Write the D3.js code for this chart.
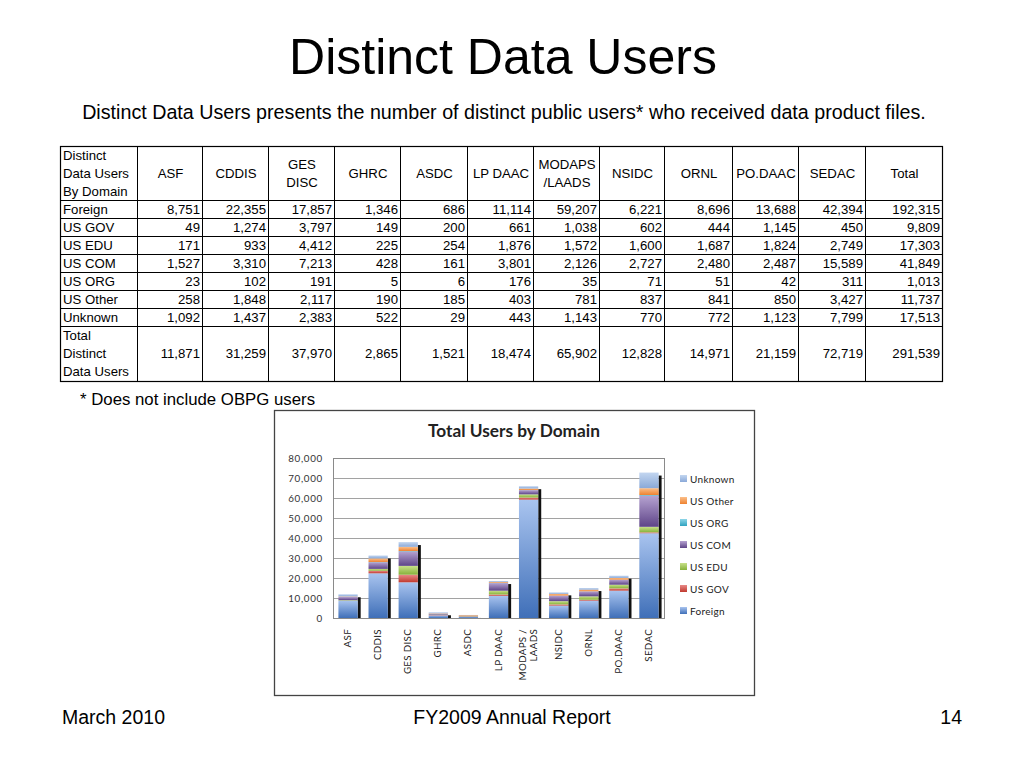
<!DOCTYPE html>
<html><head><meta charset="utf-8">
<script src="https://cdn.jsdelivr.net/npm/d3@7"></script>
<style>body{margin:0;background:#fff}svg{display:block}</style>
</head><body>
<svg id="s" width="1024" height="768"></svg>
<script>
// ---- data ----
const centers = ["ASF","CDDIS","GES DISC","GHRC","ASDC","LP DAAC","MODAPS / LAADS","NSIDC","ORNL","PO.DAAC","SEDAC"];
const tableHeaders = ["Distinct\nData Users\nBy Domain","ASF","CDDIS","GES\nDISC","GHRC","ASDC","LP DAAC","MODAPS\n/LAADS","NSIDC","ORNL","PO.DAAC","SEDAC","Total"];
const domains = ["Foreign","US GOV","US EDU","US COM","US ORG","US Other","Unknown"];
const foreign = [8751,22355,17857,1346,686,11114,59207,6221,8696,13688,42394];
const usGov   = [49,1274,3797,149,200,661,1038,602,444,1145,450];
const usEdu   = [171,933,4412,225,254,1876,1572,1600,1687,1824,2749];
const usCom   = [1527,3310,7213,428,161,3801,2126,2727,2480,2487,15589];
const usOrg   = [23,102,191,5,6,176,35,71,51,42,311];
const usOther = [258,1848,2117,190,185,403,781,837,841,850,3427];
const unknown = [1092,1437,2383,522,29,443,1143,770,772,1123,7799];
const yTicks = [0,10000,20000,30000,40000,50000,60000,70000,80000];
const totalLabel = "Total\nDistinct\nData Users";

const seriesVals = [foreign,usGov,usEdu,usCom,usOrg,usOther,unknown];
const colors = {"Foreign":["#a9c4ef","#3f6fb8"],"US GOV":["#e88a88","#c0392f"],"US EDU":["#c8e08a","#86b23a"],
  "US COM":["#b6a3d1","#5e4488"],"US ORG":["#8fd6e8","#2fa3c0"],"US Other":["#fbbf8a","#ee8230"],"Unknown":["#c3d6f0","#8aa9d8"]};

const svg = d3.select("#s");
const fmt = d3.format(",");
const SANS = "Liberation Sans, Arial, sans-serif";

// ---- slide texts ----
svg.append("text").attr("x",503).attr("y",74).attr("text-anchor","middle")
  .attr("font-family",SANS).attr("font-size",50).text("Distinct Data Users");
svg.append("text").attr("x",504).attr("y",119).attr("text-anchor","middle")
  .attr("font-family",SANS).attr("font-size",19.7)
  .text("Distinct Data Users presents the number of distinct public users* who received data product files.");
svg.append("text").attr("x",80).attr("y",405)
  .attr("font-family",SANS).attr("font-size",16.8).text("* Does not include OBPG users");
const foot = svg.append("g").attr("font-family",SANS).attr("font-size",19.5);
foot.append("text").attr("x",62).attr("y",724).text("March 2010");
foot.append("text").attr("x",512).attr("y",724).attr("text-anchor","middle").text("FY2009 Annual Report");
foot.append("text").attr("x",962).attr("y",724).attr("text-anchor","end").text("14");

// ---- table ----
const colEdges = [60,137,202,268,334,400,467,533,599,664,732,798,865,942];
const tTop = 146, headH = 54, rowH = 18, totH = 55;
const rowTops = [];
let yy = tTop + headH;
domains.forEach(()=>{rowTops.push(yy); yy += rowH;});
const tBottom = yy + totH;
const tg = svg.append("g").attr("font-family",SANS).attr("font-size",13.2).attr("fill","#000");
tg.append("rect").attr("x",colEdges[0]+0.5).attr("y",tTop+0.5).attr("width",colEdges[13]-colEdges[0]).attr("height",tBottom-tTop)
  .attr("fill","none").attr("stroke","#000").attr("stroke-width",1.2);
colEdges.slice(1,-1).forEach(x=>tg.append("line").attr("x1",x+0.5).attr("x2",x+0.5).attr("y1",tTop).attr("y2",tBottom).attr("stroke","#000"));
[tTop+headH].concat(rowTops.slice(1), [yy]).forEach(y=>tg.append("line").attr("x1",colEdges[0]).attr("x2",colEdges[13]).attr("y1",y+0.5).attr("y2",y+0.5).attr("stroke","#000"));

function multiline(g, txt, x, cy, anchor, lh){
  const lines = txt.split("\n");
  const t = g.append("text").attr("x",x).attr("text-anchor",anchor);
  lines.forEach((l,i)=>t.append("tspan").attr("x",x).attr("y",cy + (i-(lines.length-1)/2)*lh + 4.7).text(l));
}
tableHeaders.forEach((h,i)=>{
  if(i===0) multiline(tg,h,colEdges[0]+3,tTop+headH/2,"start",18);
  else multiline(tg,h,(colEdges[i]+colEdges[i+1])/2+1,tTop+headH/2,"middle",18);
});
domains.forEach((d,r)=>{
  const cy = rowTops[r]+rowH/2;
  tg.append("text").attr("x",colEdges[0]+3).attr("y",cy+4.7).text(d);
  seriesVals[r].forEach((v,c)=>tg.append("text").attr("x",colEdges[c+2]-2).attr("y",cy+4.7).attr("text-anchor","end").text(fmt(v)));
  tg.append("text").attr("x",colEdges[13]-2).attr("y",cy+4.7).attr("text-anchor","end").text(fmt(d3.sum(seriesVals[r])));
});
const totCy = yy + totH/2;
multiline(tg,totalLabel,colEdges[0]+3,totCy,"start",18);
centers.forEach((c,i)=>{
  const s = d3.sum(seriesVals,a=>a[i]);
  tg.append("text").attr("x",colEdges[i+2]-2).attr("y",totCy+4.7).attr("text-anchor","end").text(fmt(s));
});
tg.append("text").attr("x",colEdges[13]-2).attr("y",totCy+4.7).attr("text-anchor","end").text(fmt(d3.sum(seriesVals,a=>d3.sum(a))));

// ---- chart ----
const cg = svg.append("g").attr("font-family","Lato, 'Open Sans', sans-serif");
cg.append("rect").attr("x",274.5).attr("y",410.5).attr("width",480).attr("height",285).attr("fill","#fff").attr("stroke","#444").attr("stroke-width",1.3);
cg.append("text").attr("x",514).attr("y",437).attr("text-anchor","middle").attr("font-weight","bold").attr("font-size",17.3).attr("fill","#222").text("Total Users by Domain");

const pL=333, pR=664, pT=458, pB=618;
const x = d3.scaleBand().domain(centers).range([pL,pR]).paddingInner(0.36).paddingOuter(0.18);
const y = d3.scaleLinear().domain([0,80000]).range([pB,pT]);

const defs = svg.append("defs");
domains.forEach((d,i)=>{
  const g = defs.append("linearGradient").attr("id","g"+i).attr("x1",0).attr("y1",0).attr("x2",0).attr("y2",1);
  g.append("stop").attr("offset","0%").attr("stop-color",colors[d][0]);
  g.append("stop").attr("offset","100%").attr("stop-color",colors[d][1]);
});

cg.append("g").selectAll("line").data(yTicks).join("line")
  .attr("x1",pL).attr("x2",pR).attr("y1",d=>Math.round(y(d))+0.5).attr("y2",d=>Math.round(y(d))+0.5).attr("stroke","#8a8a8a").attr("stroke-width",0.8);
cg.append("rect").attr("x",pL+0.5).attr("y",pT+0.5).attr("width",pR-pL).attr("height",pB-pT).attr("fill","none").attr("stroke","#8a8a8a");

const yAxis = d3.axisLeft(y).tickValues(yTicks).tickFormat(d3.format(",")).tickSize(0).tickPadding(10);
cg.append("g").attr("transform",`translate(${pL},0)`).call(yAxis)
  .call(g=>g.select(".domain").remove())
  .selectAll("text").attr("font-size",9.8).attr("fill","#333").attr("font-family","Lato, sans-serif").attr("letter-spacing","0.7");

const rows = centers.map((c,i)=>{const o={center:c}; domains.forEach((d,k)=>o[d]=seriesVals[k][i]); return o;});
const stacked = d3.stack().keys(domains)(rows);
cg.append("g").selectAll("rect").data(rows).join("rect")
  .attr("x",d=>x(d.center)+x.bandwidth()).attr("width",3)
  .attr("y",d=>y(d3.sum(domains,k=>d[k]))+3).attr("height",d=>pB-y(d3.sum(domains,k=>d[k]))-3).attr("fill","#111");
cg.append("g").selectAll("g").data(stacked).join("g").attr("fill",(s,i)=>`url(#g${i})`)
  .selectAll("rect").data(s=>s).join("rect")
  .attr("x",d=>x(d.data.center)).attr("width",x.bandwidth())
  .attr("y",d=>y(d[1])).attr("height",d=>Math.max(0,y(d[0])-y(d[1])));

const xl = cg.append("g").attr("font-size",9.8).attr("fill","#222");
centers.forEach(c=>{
  const parts = c.split(" / ");
  const lines = parts.length>1 ? [parts[0]+" /",parts[1]] : [c];
  lines.forEach((l,i)=>{
    const cx = x(c)+x.bandwidth()/2 + 3 + (i-(lines.length-1)/2)*11;
    xl.append("text").attr("transform",`translate(${cx},${pB+11}) rotate(-90)`).attr("text-anchor","end").attr("letter-spacing","0.3").text(l);
  });
});

const lg = cg.append("g").attr("font-size",10).attr("fill","#222");
domains.slice().reverse().forEach((d,i)=>{
  const ly = 479 + i*22;
  const k = domains.indexOf(d);
  lg.append("rect").attr("x",680).attr("y",ly-4).attr("width",7).attr("height",7).attr("fill",`url(#g${k})`);
  lg.append("text").attr("x",690).attr("y",ly+3.5).attr("letter-spacing","0.3").text(d);
});
</script>
</body></html>
